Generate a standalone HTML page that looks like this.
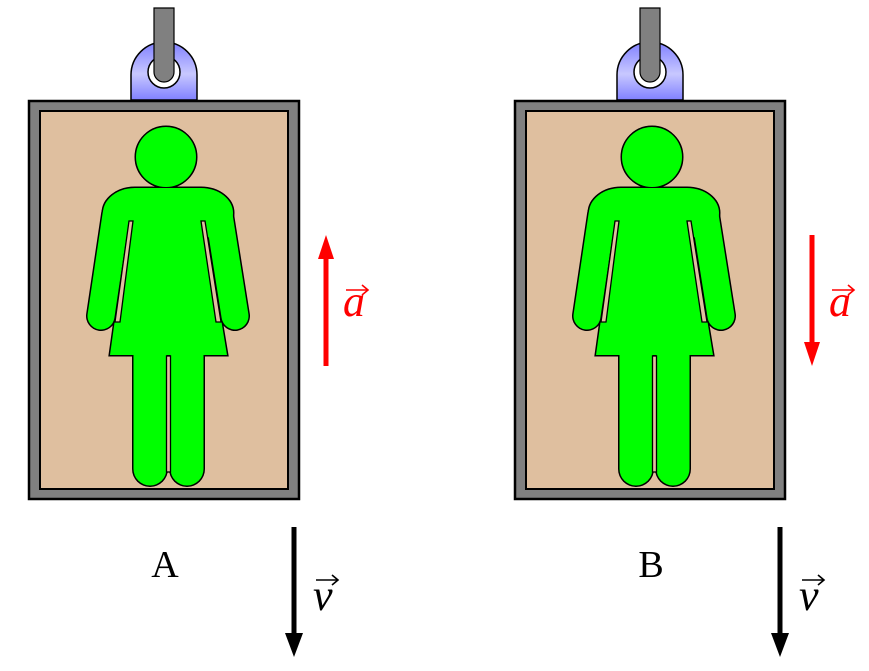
<!DOCTYPE html>
<html><head><meta charset="utf-8"><style>
html,body{margin:0;padding:0;background:#fff;width:869px;height:671px;overflow:hidden}
</style></head><body>
<svg width="869" height="671" viewBox="0 0 869 671" xmlns="http://www.w3.org/2000/svg">
<defs>
<linearGradient id="lug" x1="0" y1="0" x2="0" y2="1">
<stop offset="0" stop-color="#8080ff"/><stop offset="0.55" stop-color="#c8c8ff"/><stop offset="1" stop-color="#8080ff"/>
</linearGradient>
<g id="elev">
  <path d="M131,100 L131,75 A33,33 0 0 1 197,75 L197,100 Z" fill="url(#lug)" stroke="#000" stroke-width="1.5"/>
  <circle cx="164" cy="72" r="16" fill="#fff" stroke="#000" stroke-width="1.5"/>
  <path d="M154,8 L154,72 A10,10 0 0 0 174,72 L174,8 Z" fill="#808080" stroke="#000" stroke-width="1.2"/>
  <rect x="29" y="101" width="270" height="398" fill="#808080" stroke="#000" stroke-width="2.5"/>
  <rect x="40" y="111" width="248" height="378" fill="#dfbf9f" stroke="#000" stroke-width="2"/>
  <g stroke="#000" stroke-width="3" fill="#00ff00">
    <circle cx="166" cy="157" r="30"/>
    <rect x="103" y="188" width="130" height="50" rx="32"/>
    <line x1="116" y1="215" x2="101" y2="316" stroke-width="30" stroke-linecap="round"/>
    <line x1="219" y1="215" x2="235" y2="316" stroke-width="30" stroke-linecap="round"/>
    <polygon points="131,205 202,205 227,355 110,355"/>
    <line x1="150" y1="355" x2="150" y2="469" stroke-width="36" stroke-linecap="round"/>
    <line x1="187" y1="355" x2="187" y2="469" stroke-width="36" stroke-linecap="round"/>
  </g>
  <g fill="#00ff00" stroke="none">
    <circle cx="166" cy="157" r="30"/>
    <rect x="103" y="188" width="130" height="50" rx="32"/>
    <line x1="116" y1="215" x2="101" y2="316" stroke="#00ff00" stroke-width="27" stroke-linecap="round"/>
    <line x1="219" y1="215" x2="235" y2="316" stroke="#00ff00" stroke-width="27" stroke-linecap="round"/>
    <polygon points="131,205 202,205 227,355 110,355"/>
    <line x1="150" y1="350" x2="150" y2="469" stroke="#00ff00" stroke-width="33" stroke-linecap="round"/>
    <line x1="187" y1="350" x2="187" y2="469" stroke="#00ff00" stroke-width="33" stroke-linecap="round"/>
  </g>
  <polygon points="129,221 133,221 120,322 115,322" fill="#dfbf9f" stroke="#000" stroke-width="1.3"/>
  <polygon points="201,221 205,221 221,322 216,322" fill="#dfbf9f" stroke="#000" stroke-width="1.3"/>
  <rect x="166.5" y="356" width="4" height="116" fill="#dfbf9f" stroke="#000" stroke-width="1.3"/>
  <line x1="294" y1="527" x2="294" y2="636" stroke="#000" stroke-width="5"/>
  <polygon points="285,633 303,633 294,657" fill="#000"/>
  <text x="313" y="610" font-family="Liberation Serif, serif" font-style="italic" font-size="44" fill="#000">v</text>
  <path d="M316,580 L337,580 M332,575 L338,580 L332,585" fill="none" stroke="#000" stroke-width="1.6"/>
</g>
</defs>
<g><use href="#elev"/></g>
<g><use href="#elev" transform="translate(486,0)"/></g>
<text x="165" y="577" text-anchor="middle" font-family="Liberation Serif, serif" font-size="38">A</text>
<text x="651" y="577" text-anchor="middle" font-family="Liberation Serif, serif" font-size="38">B</text>
<g>
  <line x1="326" y1="255" x2="326" y2="366" stroke="#ff0000" stroke-width="5"/>
  <polygon points="318,259 334,259 326,235" fill="#ff0000"/>
  <text x="343" y="316" font-family="Liberation Serif, serif" font-style="italic" font-size="44" fill="#ff0000">a</text>
  <path d="M346,290 L367,290 M362,285 L368,290 L362,295" fill="none" stroke="#ff0000" stroke-width="1.6"/>
</g>
<g>
  <line x1="812" y1="235" x2="812" y2="345" stroke="#ff0000" stroke-width="5"/>
  <polygon points="804,342 820,342 812,366" fill="#ff0000"/>
  <text x="829" y="316" font-family="Liberation Serif, serif" font-style="italic" font-size="44" fill="#ff0000">a</text>
  <path d="M832,290 L853,290 M848,285 L854,290 L848,295" fill="none" stroke="#ff0000" stroke-width="1.6"/>
</g>
</svg>
</body></html>
